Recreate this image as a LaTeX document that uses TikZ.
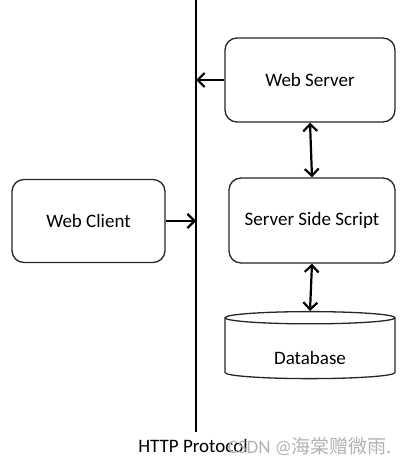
\documentclass[tikz,border=0pt]{standalone}
\usepackage{fontspec}
\setmainfont{Carlito}
\newfontfamily\cjk{Noto Sans CJK SC}
\usepackage{tikz}
\usetikzlibrary{arrows.meta,shapes.geometric,positioning}

\begin{document}
\begin{tikzpicture}[x=1pt, y=-1pt, inner sep=0pt, font=\fontsize{19}{23}\selectfont]
    \tikzstyle{box}=[rectangle, rounded corners=12pt, draw=black!85, line width=1.3pt, fill=white, text=black]
    \tikzstyle{db}=[cylinder, shape border rotate=90, aspect=0.17, draw=black!85, line width=1.3pt, fill=white, text=black]
    \tikzstyle{link}=[draw=black, line width=2.2pt, -{Straight Barb[length=7pt, width=14pt, line width=2.2pt]}]
    \tikzstyle{both}=[link, {Straight Barb[length=7pt, width=14pt, line width=2.2pt]}-{Straight Barb[length=7pt, width=14pt, line width=2.2pt]}]

    \useasboundingbox (0,0) rectangle (411,473);

    % the protocol line
    \coordinate (ltop) at (196,0);
    \coordinate (lbot) at (196,432);
    \draw[line width=2pt] (ltop) -- (lbot);
    \node (http) at (193,446) {HTTP Protocol};

    \node[box, minimum width=170pt, minimum height=84pt] (ws) at (310,80) {Web Server};
    \node[box, minimum width=166pt, minimum height=85pt] (sss) at (312,220.5) {Server Side Script};
    \node[box, minimum width=153pt, minimum height=83pt] (wc) at (88.5,221) {Web Client};
    \node[db, minimum width=170pt, minimum height=67pt, text height=31pt, text depth=0pt] (base) at (310,348.5) {Database};

    \draw[link] (ws.west) -- (ws.west -| ltop);
    \draw[link] (wc.east) -- (wc.east -| ltop);
    \draw[both] (ws.south) -- (sss.north);
    \draw[both] (sss.south) -- (base.north);

    \node[text=black!30, font=\fontsize{19}{23}\selectfont] (mark) at (310,447) {CSDN @\cjk 海棠赠微雨.};
\end{tikzpicture}
\end{document}
